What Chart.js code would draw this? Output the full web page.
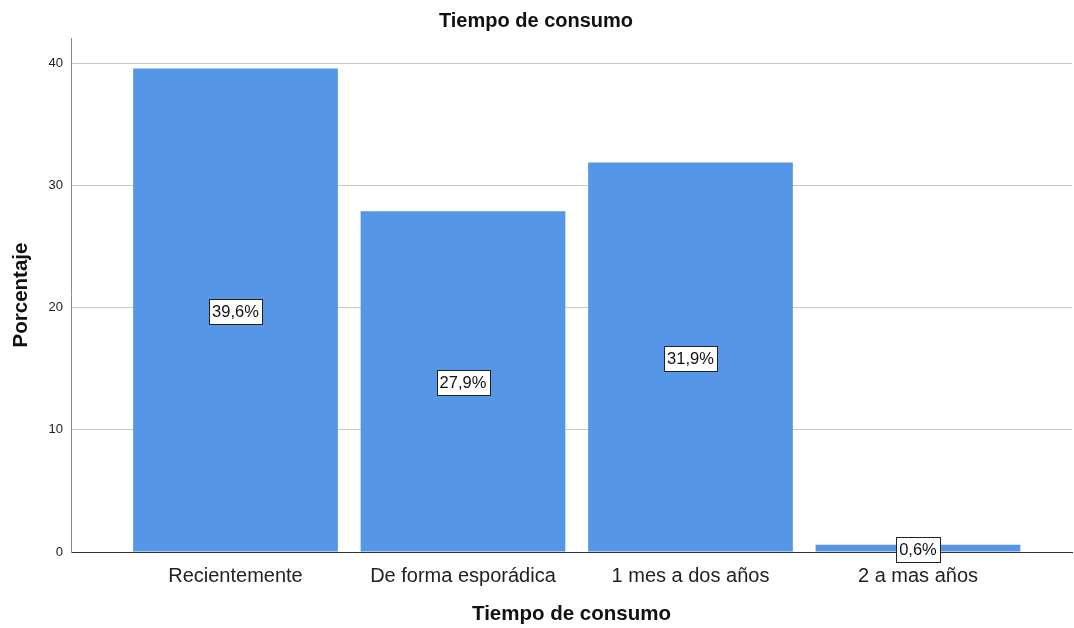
<!DOCTYPE html>
<html>
<head>
<meta charset="utf-8">
<script src="https://cdn.jsdelivr.net/npm/chart.js@4"></script>
<style>
html,body{margin:0;padding:0;background:#fff;}
#wrap{width:1074px;height:628px;}
</style>
</head>
<body>
<div id="wrap"><canvas id="c" width="1074" height="628"></canvas></div>
<script>
const categories = ["Recientemente", "De forma esporádica", "1 mes a dos años", "2 a mas años"];
const percentages = [39.6, 27.9, 31.9, 0.6];
const yTicks = [0, 10, 20, 30, 40];

const FONT = "'Liberation Sans', Arial, sans-serif";

const labelPlugin = {
  id: 'boxLabels',
  afterDatasetsDraw(chart) {
    const ctx = chart.ctx;
    const xs = chart.scales.x, ys = chart.scales.y;
    ctx.save();
    ctx.font = "16.5px " + FONT;
    ctx.textAlign = 'center';
    ctx.textBaseline = 'middle';
    percentages.forEach((v, i) => {
      const txt = v.toFixed(1).replace('.', ',') + '%';
      const x = xs.getPixelForValue(i);
      const y = ys.getPixelForValue(v / 2) + 1;
      const w = ctx.measureText(txt).width + 6;
      const h = 25;
      const bx = Math.round(x - w / 2) + 0.5, by = Math.round(y - h / 2) + 0.5;
      ctx.fillStyle = '#fff';
      ctx.fillRect(bx, by, Math.round(w), h);
      ctx.strokeStyle = '#222';
      ctx.lineWidth = 1;
      ctx.strokeRect(bx, by, Math.round(w), h);
      ctx.fillStyle = '#111';
      ctx.fillText(txt, x, y + 1);
    });
    ctx.restore();
  }
};

new Chart(document.getElementById('c'), {
  type: 'bar',
  data: {
    datasets: [{
      data: percentages.map((v, i) => ({ x: i, y: v })),
      backgroundColor: '#5596e6',
      borderWidth: 0,
      categoryPercentage: 1,
      barPercentage: 0.9
    }]
  },
  options: {
    responsive: false,
    animation: false,
    layout: { padding: { top: 7, right: 2, left: 0, bottom: 0 } },
    plugins: {
      legend: { display: false },
      tooltip: { enabled: false },
      title: {
        display: true,
        text: 'Tiempo de consumo',
        color: '#111',
        font: { family: FONT, size: 20, weight: 'bold' },
        padding: { top: 2, bottom: 5 }
      }
    },
    scales: {
      x: {
        type: 'linear',
        offset: false,
        min: -0.723,
        max: 3.677,
        afterBuildTicks(scale) { scale.ticks = categories.map((c, i) => ({ value: i })); },
        afterFit(scale) { scale.height = 76; },
        ticks: {
          callback: (v) => categories[v],
          color: '#222',
          font: { family: FONT, size: 20 },
          padding: 12,
          maxRotation: 0,
          autoSkip: false
        },
        grid: { display: false, drawTicks: false },
        border: { display: true, color: '#333', width: 1 },
        title: {
          display: true,
          text: 'Tiempo de consumo',
          color: '#111',
          font: { family: FONT, size: 20.5, weight: 'bold' },
          padding: { top: 11, bottom: 1 }
        }
      },
      y: {
        min: 0,
        max: 42.1,
        afterBuildTicks(scale) { scale.ticks = yTicks.map(v => ({ value: v })); },
        afterFit(scale) { scale.width = 71; },
        ticks: {
          color: '#222',
          font: { family: FONT, size: 13 },
          padding: 8
        },
        grid: { color: '#c8c8c8', lineWidth: 1, drawTicks: false },
        border: { display: true, color: '#8a8a8a', width: 1 },
        title: {
          display: true,
          text: 'Porcentaje',
          color: '#111',
          font: { family: FONT, size: 20.5, weight: 'bold' },
          padding: { top: 9, bottom: 0 }
        }
      }
    }
  },
  plugins: [labelPlugin]
});
</script>
</body>
</html>
